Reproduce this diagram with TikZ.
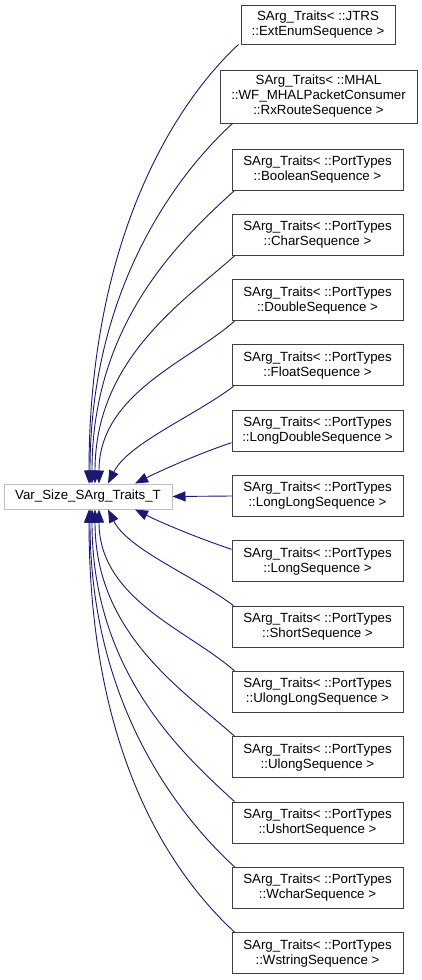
\documentclass[tikz,border=0pt]{standalone}
\usepackage{fontspec}
\setmainfont{Liberation Sans}
\usetikzlibrary{arrows.meta}
\definecolor{edgeblue}{HTML}{191970}
\definecolor{boxline}{HTML}{404040}
\definecolor{baseline}{HTML}{BFBFBF}
\begin{document}
\begin{tikzpicture}[x=1pt, y=1pt,
  cls/.style={draw=boxline, line width=1pt, rectangle, align=center, inner sep=0pt,
    minimum width=171pt, minimum height=41pt, font=\fontsize{13.3}{15}\selectfont},
  base/.style={cls, draw=baseline, minimum width=168pt, minimum height=25pt},
  edge/.style={draw=edgeblue, line width=0.9pt, -{Triangle[length=13pt, width=10pt]}}]
\useasboundingbox (0,0) rectangle (421,-980);
\node[base] (v) at (88,-496.5) {Var\_Size\_SArg\_Traits\_T};
\node[cls, minimum width=154pt, minimum height=39pt] (jtrs) at (318,-24.5) {SArg\_Traits< ::JTRS\\::ExtEnumSequence >};
\node[cls, minimum width=197pt, minimum height=53pt] (mhal) at (318.5,-96.5) {SArg\_Traits< ::MHAL\\::WF\_MHALPacketConsumer\\::RxRouteSequence >};
\node[cls] (bool) at (317.5,-169.5) {SArg\_Traits< ::PortTypes\\::BooleanSequence >};
\node[cls] (char) at (317.5,-234.8) {SArg\_Traits< ::PortTypes\\::CharSequence >};
\node[cls] (dbl) at (317.5,-300.1) {SArg\_Traits< ::PortTypes\\::DoubleSequence >};
\node[cls] (flt) at (317.5,-365.4) {SArg\_Traits< ::PortTypes\\::FloatSequence >};
\node[cls] (ldbl) at (317.5,-430.7) {SArg\_Traits< ::PortTypes\\::LongDoubleSequence >};
\node[cls] (llong) at (317.5,-496) {SArg\_Traits< ::PortTypes\\::LongLongSequence >};
\node[cls] (long) at (317.5,-561.3) {SArg\_Traits< ::PortTypes\\::LongSequence >};
\node[cls] (short) at (317.5,-626.6) {SArg\_Traits< ::PortTypes\\::ShortSequence >};
\node[cls] (ullong) at (317.5,-691.9) {SArg\_Traits< ::PortTypes\\::UlongLongSequence >};
\node[cls] (ulong) at (317.5,-757.2) {SArg\_Traits< ::PortTypes\\::UlongSequence >};
\node[cls] (ushort) at (317.5,-822.5) {SArg\_Traits< ::PortTypes\\::UshortSequence >};
\node[cls] (wchar) at (317.5,-887.8) {SArg\_Traits< ::PortTypes\\::WcharSequence >};
\node[cls] (wstr) at (317.5,-953.1) {SArg\_Traits< ::PortTypes\\::WstringSequence >};
% upper edges
\draw[edge] ([xshift=-2pt]jtrs.south west) .. controls +(-70,-65) and +(0,235) .. ([xshift=1pt]v.north);
\draw[edge] ([xshift=13pt]mhal.south west) .. controls +(-60,-55) and +(0,190) .. ([xshift=2pt]v.north);
\draw[edge] ([xshift=3pt]bool.south west) .. controls +(-55,-50) and +(0,160) .. ([xshift=4pt]v.north);
\draw[edge] ([xshift=3pt]char.south west) .. controls +(-50,-45) and +(0,125) .. ([xshift=7pt]v.north);
\draw[edge] ([xshift=3pt]dbl.south west) .. controls +(-45,-40) and +(0,90) .. ([xshift=11pt]v.north);
\draw[edge] ([xshift=2pt]flt.south west) .. controls +(-40,-30) and +(20,40) .. ([xshift=20pt]v.north);
\draw[edge] ([yshift=9pt]ldbl.south west) .. controls +(-30,-10) and +(30,15) .. ([xshift=47pt]v.north);
% middle edge
\draw[edge] (llong.west) -- (v.east);
% lower edges
\draw[edge] ([yshift=-9pt]long.north west) .. controls +(-30,10) and +(30,-15) .. ([xshift=47pt]v.south);
\draw[edge] ([xshift=2pt]short.north west) .. controls +(-40,30) and +(20,-40) .. ([xshift=20pt]v.south);
\draw[edge] ([xshift=3pt]ullong.north west) .. controls +(-45,40) and +(0,-90) .. ([xshift=11pt]v.south);
\draw[edge] ([xshift=3pt]ulong.north west) .. controls +(-50,45) and +(0,-125) .. ([xshift=7pt]v.south);
\draw[edge] ([xshift=3pt]ushort.north west) .. controls +(-55,50) and +(0,-160) .. ([xshift=4pt]v.south);
\draw[edge] ([xshift=3pt]wchar.north west) .. controls +(-60,55) and +(0,-190) .. ([xshift=2pt]v.south);
\draw[edge] ([xshift=3pt]wstr.north west) .. controls +(-70,65) and +(0,-235) .. ([xshift=1pt]v.south);
\end{tikzpicture}
\end{document}
